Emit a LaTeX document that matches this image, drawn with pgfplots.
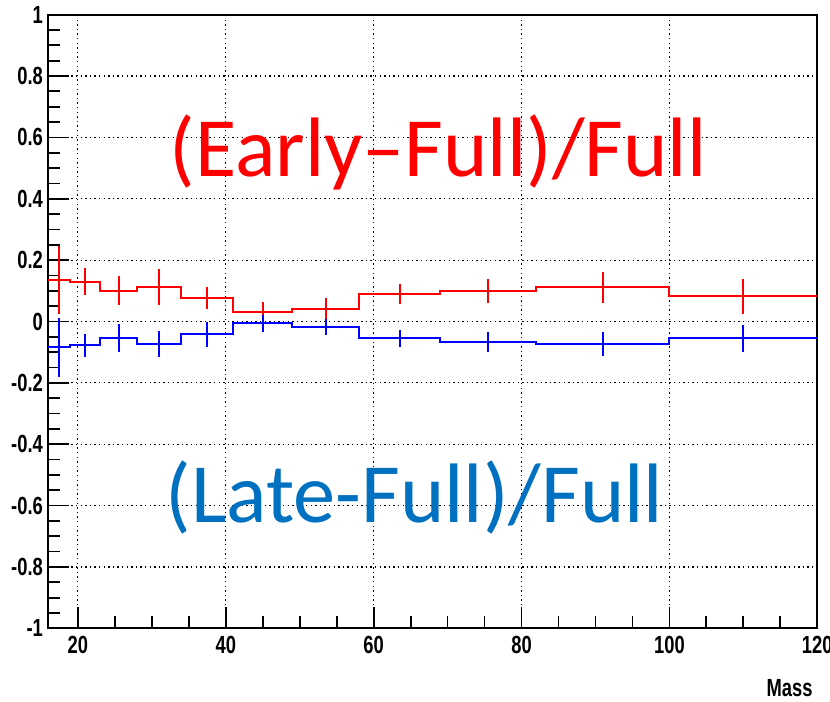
\documentclass[border=0pt]{standalone}
\usepackage{fontspec}
\usepackage{pgfplots}
\pgfplotsset{compat=1.18}
\newfontfamily\calibri{Carlito}
\newfontfamily\rootfont{Liberation Sans}[FakeStretch=0.74]
\definecolor{annblue}{RGB}{0,112,192}
\begin{document}
\begin{tikzpicture}
\begin{axis}[
  scale only axis, width=384.5pt, height=306.8pt,
  xmin=16, xmax=120, ymin=-1, ymax=1,
  axis line style={line width=1pt},
  xtick={20,40,60,80,100,120},
  xticklabels={20,40,60,80,100,120},
  ytick={-1,-0.8,-0.6,-0.4,-0.2,0,0.2,0.4,0.6,0.8,1},
  yticklabels={-1,-0.8,-0.6,-0.4,-0.2,0,0.2,0.4,0.6,0.8,1},
  minor x tick num=3, minor y tick num=3,
  tick align=inside, tick pos=left,
  major tick style={line width=0.9pt, black},
  minor tick style={line width=0.9pt, black},
  major tick length=10.5pt, minor tick length=6pt,
  ticklabel style={font=\rootfont\bfseries\fontsize{12.4}{13}\selectfont},
  xticklabel style={yshift=-0.3pt},
  yticklabel style={xshift=0.8pt},
  grid=major,
  major grid style={black, line width=0.6pt, dash pattern=on 0.7pt off 1.6pt},
  clip=false,
]
% (Early-Full)/Full : bin edges and values
\addplot[const plot, red, line width=1pt] coordinates {
 (16,0.136) (19,0.130) (23,0.100) (28,0.112) (34,0.076) (41,0.030)
 (49,0.042) (58,0.089) (69,0.100) (82,0.111) (100,0.082) (120,0.082)};
\addplot[draw=none, mark=none, forget plot,
  error bars/.cd, y dir=both, y explicit, error mark=none,
  error bar style={draw=red, line width=1pt}] coordinates {
 (17.5,0.136) +- (0,0.110)
 (21,0.130) +- (0,0.045)
 (25.5,0.100) +- (0,0.047)
 (31,0.112) +- (0,0.058)
 (37.5,0.076) +- (0,0.036)
 (45,0.030) +- (0,0.033)
 (53.5,0.042) +- (0,0.033)
 (63.5,0.089) +- (0,0.033)
 (75.5,0.100) +- (0,0.039)
 (91,0.111) +- (0,0.050)
 (110,0.082) +- (0,0.056)};
% (Late-Full)/Full
\addplot[const plot, blue, line width=1pt] coordinates {
 (16,-0.084) (19,-0.078) (23,-0.053) (28,-0.073) (34,-0.042) (41,-0.006)
 (49,-0.019) (58,-0.055) (69,-0.067) (82,-0.073) (100,-0.055) (120,-0.055)};
\addplot[draw=none, mark=none, forget plot,
  error bars/.cd, y dir=both, y explicit, error mark=none,
  error bar style={draw=blue, line width=1pt}] coordinates {
 (17.5,-0.084) +- (0,0.097)
 (21,-0.078) +- (0,0.037)
 (25.5,-0.053) +- (0,0.045)
 (31,-0.073) +- (0,0.042)
 (37.5,-0.042) +- (0,0.040)
 (45,-0.006) +- (0,0.027)
 (53.5,-0.019) +- (0,0.026)
 (63.5,-0.055) +- (0,0.027)
 (75.5,-0.067) +- (0,0.033)
 (91,-0.073) +- (0,0.038)
 (110,-0.055) +- (0,0.045)};
\node[anchor=base west, inner sep=0pt, text=red, font=\calibri\fontsize{42.2}{46}\selectfont]
  at (axis cs:32.4,0.473) {(Early–Full)/Full};
\node[anchor=base west, inner sep=0pt, text=annblue, font=\calibri\fontsize{42.2}{46}\selectfont]
  at (axis cs:31.8,-0.654) {(Late-Full)/Full};
\node[anchor=north east, inner sep=0pt, font=\rootfont\bfseries\fontsize{12.4}{13}\selectfont]
  at (rel axis cs:1,0) [yshift=-25.5pt, xshift=-2.2pt] {Mass};
\end{axis}
\pgfresetboundingbox
\path[use as bounding box] (current axis.south west) ++(-24.15pt,-36.5pt) rectangle ([xshift=6.35pt,yshift=7.35pt]current axis.north east);
\end{tikzpicture}
\end{document}
